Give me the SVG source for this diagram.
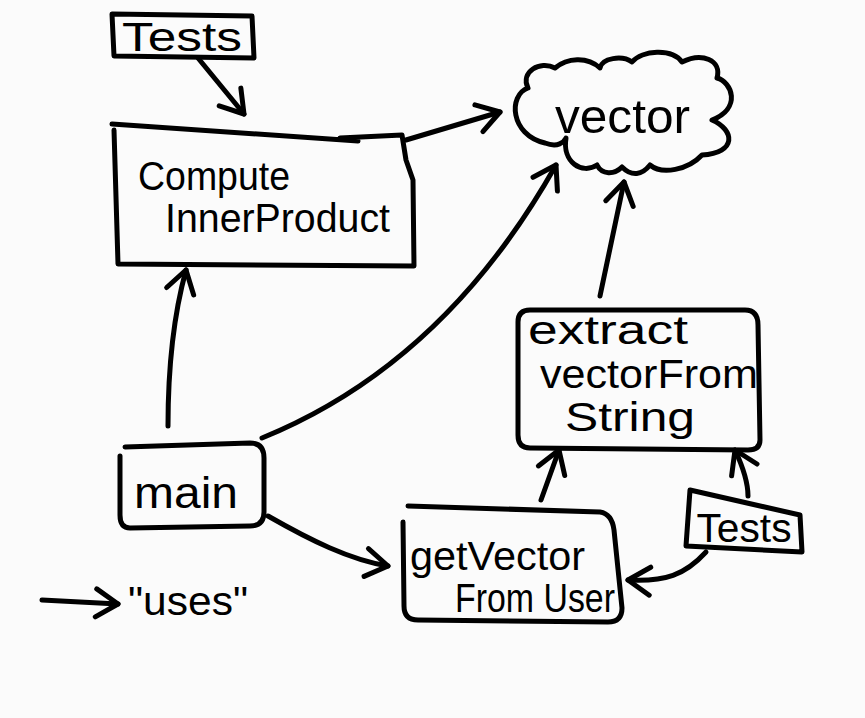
<svg xmlns="http://www.w3.org/2000/svg" width="865" height="718" viewBox="0 0 865 718">
<style>
.s{fill:none;stroke:#000;stroke-width:5;stroke-linecap:round;stroke-linejoin:round}
.t{font-family:"Liberation Sans",Arial,sans-serif;fill:#000;font-size:40px}
</style>
<defs>
<marker id="ah" markerUnits="userSpaceOnUse" markerWidth="40" markerHeight="40" viewBox="-30 -20 40 40" refX="0" refY="0" orient="auto">
<polyline points="-22,-14 0,0 -22,14" fill="none" stroke="#000" stroke-width="5" stroke-linecap="round" stroke-linejoin="round"/>
</marker>
</defs>
<rect width="865" height="718" fill="#fbfbfb"/>
<g id="tests-top">
<path class="s" d="M112,14 L252,16 L254,58 L114,56 Z"/>
<text class="t" x="182" y="51" text-anchor="middle" textLength="120" lengthAdjust="spacingAndGlyphs">Tests</text>
</g>
<g id="compute">
<path class="s" d="M112,124 L358,141 M340,138 L402,135 L406,160 L413,180 L414,266 L118,264 L114,130"/>
<text class="t" x="138" y="190" textLength="152" lengthAdjust="spacingAndGlyphs">Compute</text>
<text class="t" x="165" y="232" textLength="225" lengthAdjust="spacingAndGlyphs">InnerProduct</text>
</g>
<g id="vector">
<path class="s" d="M555,68 C540,60 520,72 528,88 C508,95 510,135 545,143 C558,148 564,142 566,138 C562,162 582,175 597,165 C602,175 614,175 622,167 C632,177 642,175 650,165 C662,175 688,170 702,155 C737,153 735,130 712,120 C742,108 732,82 717,78 C722,60 702,52 682,62 C672,48 642,50 632,62 C622,55 602,58 600,68 C587,56 567,58 555,68 Z"/>
<text class="t" x="555" y="133" style="font-size:48px" textLength="135" lengthAdjust="spacingAndGlyphs">vector</text>
</g>
<g id="main">
<path class="s" d="M125,447 L250,443 Q264,443 264,458 L264,512 Q264,526 250,526 L130,528 Q120,528 120,515 L120,456"/>
<text class="t" x="134" y="508" style="font-size:44px" textLength="104" lengthAdjust="spacingAndGlyphs">main</text>
</g>
<g id="extract">
<path class="s" d="M530,310 L745,310 Q758,310 758,325 L760,440 Q760,450 748,450 L530,448 Q518,448 518,435 L518,322 Q518,310 530,310 Z"/>
<text class="t" x="528" y="344" textLength="160" lengthAdjust="spacingAndGlyphs">extract</text>
<text class="t" x="540" y="388" textLength="218" lengthAdjust="spacingAndGlyphs">vectorFrom</text>
<text class="t" x="565" y="431" textLength="130" lengthAdjust="spacingAndGlyphs">String</text>
</g>
<g id="getvector">
<path class="s" d="M408,506 L600,512 Q612,514 614,530 L622,608 Q622,622 608,622 L418,620 Q404,620 404,606 L403,522"/>
<text class="t" x="410" y="570" textLength="175" lengthAdjust="spacingAndGlyphs">getVector</text>
<text class="t" x="455" y="612" textLength="160" lengthAdjust="spacingAndGlyphs">From User</text>
</g>
<g id="tests-bottom">
<path class="s" d="M690,490 L800,515 L802,552 L686,546 Z"/>
<text class="t" x="744" y="542" text-anchor="middle" textLength="95" lengthAdjust="spacingAndGlyphs">Tests</text>
</g>
<g id="legend">
<path class="s" d="M42,600 L118,604" marker-end="url(#ah)"/>
<text class="t" x="128" y="615" textLength="120" lengthAdjust="spacingAndGlyphs">"uses"</text>
</g>
<g id="connectors">
<path class="s" d="M198,58 L244,114" marker-end="url(#ah)"/>
<path class="s" d="M406,140 L500,112" marker-end="url(#ah)"/>
<path class="s" d="M262,438 C380,390 480,300 556,165" marker-end="url(#ah)"/>
<path class="s" d="M168,426 C168,360 175,310 186,270" marker-end="url(#ah)"/>
<path class="s" d="M268,516 C310,540 350,560 388,566" marker-end="url(#ah)"/>
<path class="s" d="M600,296 L624,182" marker-end="url(#ah)"/>
<path class="s" d="M541,500 L559,450" marker-end="url(#ah)"/>
<path class="s" d="M748,496 C748,480 742,465 735,450" marker-end="url(#ah)"/>
<path class="s" d="M706,552 C685,575 665,582 628,580" marker-end="url(#ah)"/>
</g>
</svg>
